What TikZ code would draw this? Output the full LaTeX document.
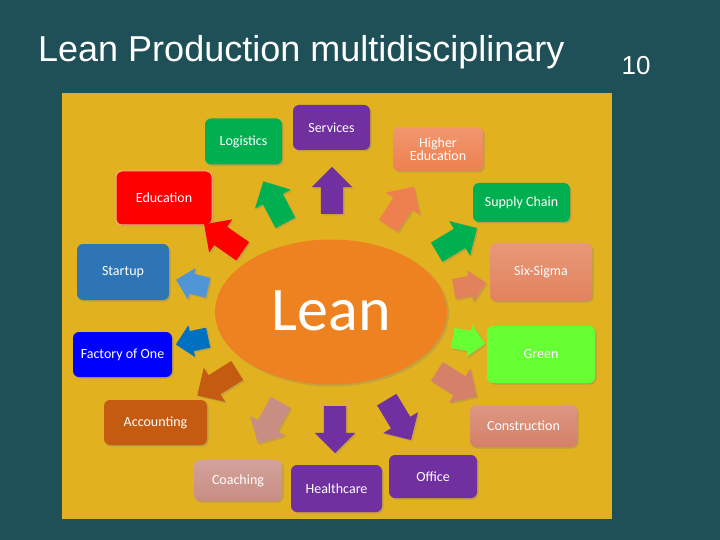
\documentclass[tikz,border=0pt]{standalone}
\usepackage{fontspec}
\setmainfont{Liberation Sans}
\newfontfamily\carl{Carlito}
\usetikzlibrary{shapes.arrows,shapes.geometric,shadows}
\definecolor{bgteal}{RGB}{31,79,87}
\definecolor{panel}{RGB}{226,177,32}
\definecolor{leanorange}{RGB}{238,130,32}
\definecolor{cpurple}{RGB}{112,48,160}
\definecolor{cgreen}{RGB}{0,176,80}
\definecolor{cred}{RGB}{255,0,0}
\definecolor{cstart}{RGB}{46,117,182}
\definecolor{cstartarr}{RGB}{80,150,215}
\definecolor{cfactory}{RGB}{0,0,255}
\definecolor{cfactarr}{RGB}{0,112,192}
\definecolor{caccount}{RGB}{197,90,17}
\definecolor{ccoach}{RGB}{200,142,132}
\definecolor{cconstr}{RGB}{213,128,104}
\definecolor{cbright}{RGB}{102,255,51}
\definecolor{csix}{RGB}{226,130,92}
\definecolor{chigher}{RGB}{238,128,80}
\tikzset{
  box/.style={rounded corners=6pt, text=white, align=center,
    font=\carl\fontsize{14}{14}\selectfont, inner sep=2pt,
    drop shadow={opacity=0.35, shadow xshift=1.5pt, shadow yshift=-1.5pt}},
  grad/.style={top color=#1!82!white, bottom color=#1},
  blk/.style={single arrow, single arrow head extend=9pt, minimum height=47pt,
    inner xsep=0pt, inner ysep=11pt, draw=none,
    drop shadow={opacity=0.3, shadow xshift=1.5pt, shadow yshift=-1.5pt}},
  sblk/.style={blk, minimum height=33pt, inner ysep=10pt, single arrow head extend=6pt}
}
\begin{document}
\begin{tikzpicture}[x=1pt,y=-1pt]
\fill[bgteal] (0,0) rectangle (720,540);
\useasboundingbox (0,0) rectangle (720,540);
\node[anchor=base west, inner sep=0pt, text=white, font=\fontsize{36}{36}\selectfont] (title) at (38,62) {Lean Production multidisciplinary};
\node[anchor=base, inner sep=0pt, text=white, font=\fontsize{26}{26}\selectfont] (num) at (636,75) {10};
\fill[panel] (62,93) rectangle (612,519);
\node[ellipse, fill=leanorange, minimum width=232pt, minimum height=145pt, inner sep=0pt,
  drop shadow={opacity=0.3, shadow xshift=2pt, shadow yshift=-2pt}] (lean) at (331,312) {};
\node[anchor=base, inner sep=0pt, text=white, font=\carl\fontsize{62}{62}\selectfont] (leantxt) at (331,330) {Lean};
% boxes
\node[box, fill=cpurple, minimum width=77pt, minimum height=45pt] (services) at (331.5,127.5) {Services};
\node[box, fill=cgreen, minimum width=77pt, minimum height=46pt] (logistics) at (243.5,141.5) {Logistics};
\node[box, fill=cred, draw={rgb,255:red,244;green,177;blue,131}, line width=1pt, minimum width=96pt, minimum height=54pt] (education) at (164,198) {Education};
\node[box, fill=cstart, minimum width=92pt, minimum height=56pt] (startup) at (123,272) {Startup};
\node[box, fill=cfactory, minimum width=99pt, minimum height=45pt] (factory) at (122.5,354.5) {Factory of One};
\node[box, fill=caccount, minimum width=103pt, minimum height=45pt] (accounting) at (155.5,422.5) {Accounting};
\node[box, grad=ccoach, minimum width=88pt, minimum height=41pt] (coaching) at (238,480.5) {Coaching};
\node[box, fill=cpurple, minimum width=91pt, minimum height=47pt] (healthcare) at (336.5,488.5) {Healthcare};
\node[box, fill=cpurple, minimum width=88pt, minimum height=43pt] (office) at (433,476.5) {Office};
\node[box, grad=cconstr, minimum width=107pt, minimum height=42pt] (construction) at (523.5,426) {Construction};
\node[box, fill=cbright, minimum width=108pt, minimum height=57pt] (green) at (541,354.5) {Green};
\node[box, grad=csix, minimum width=102pt, minimum height=58pt] (sixsigma) at (541,272) {Six-Sigma};
\node[box, fill=cgreen, minimum width=97pt, minimum height=39pt] (supply) at (521.5,202.5) {Supply Chain};
\node[box, grad=chigher, minimum width=90pt, minimum height=44pt, font=\carl\fontsize{14}{13}\selectfont] (higher) at (438,149) {Higher\\Education};
% arrows
\node[blk, fill=cpurple, rotate=90] (aservices) at (332,196) {};
\node[blk, fill=cgreen, rotate=118] (alogistics) at (277,207) {};
\node[blk, fill=cred, rotate=145] (aeducation) at (228,241) {};
\node[sblk, fill=cstartarr, rotate=166] (astartup) at (197,285) {};
\node[sblk, fill=cfactarr, rotate=192] (afactory) at (197,340) {};
\node[blk, fill=caccount, rotate=212] (aaccounting) at (222,380) {};
\node[blk, fill=ccoach, rotate=241] (acoaching) at (272,418) {};
\node[blk, fill=cpurple, rotate=270] (ahealth) at (335,424) {};
\node[blk, fill=cpurple, rotate=301] (aoffice) at (396,415) {};
\node[blk, fill=cconstr, rotate=328] (aconstr) at (452,381) {};
\node[sblk, fill=cbright, rotate=350] (agreen) at (464,340) {};
\node[sblk, fill=csix, rotate=11] (asix) at (465,287) {};
\node[blk, fill=cgreen, rotate=31] (asupply) at (452,243) {};
\node[blk, fill=chigher, rotate=57] (ahigher) at (398,211) {};
\end{tikzpicture}
\end{document}
